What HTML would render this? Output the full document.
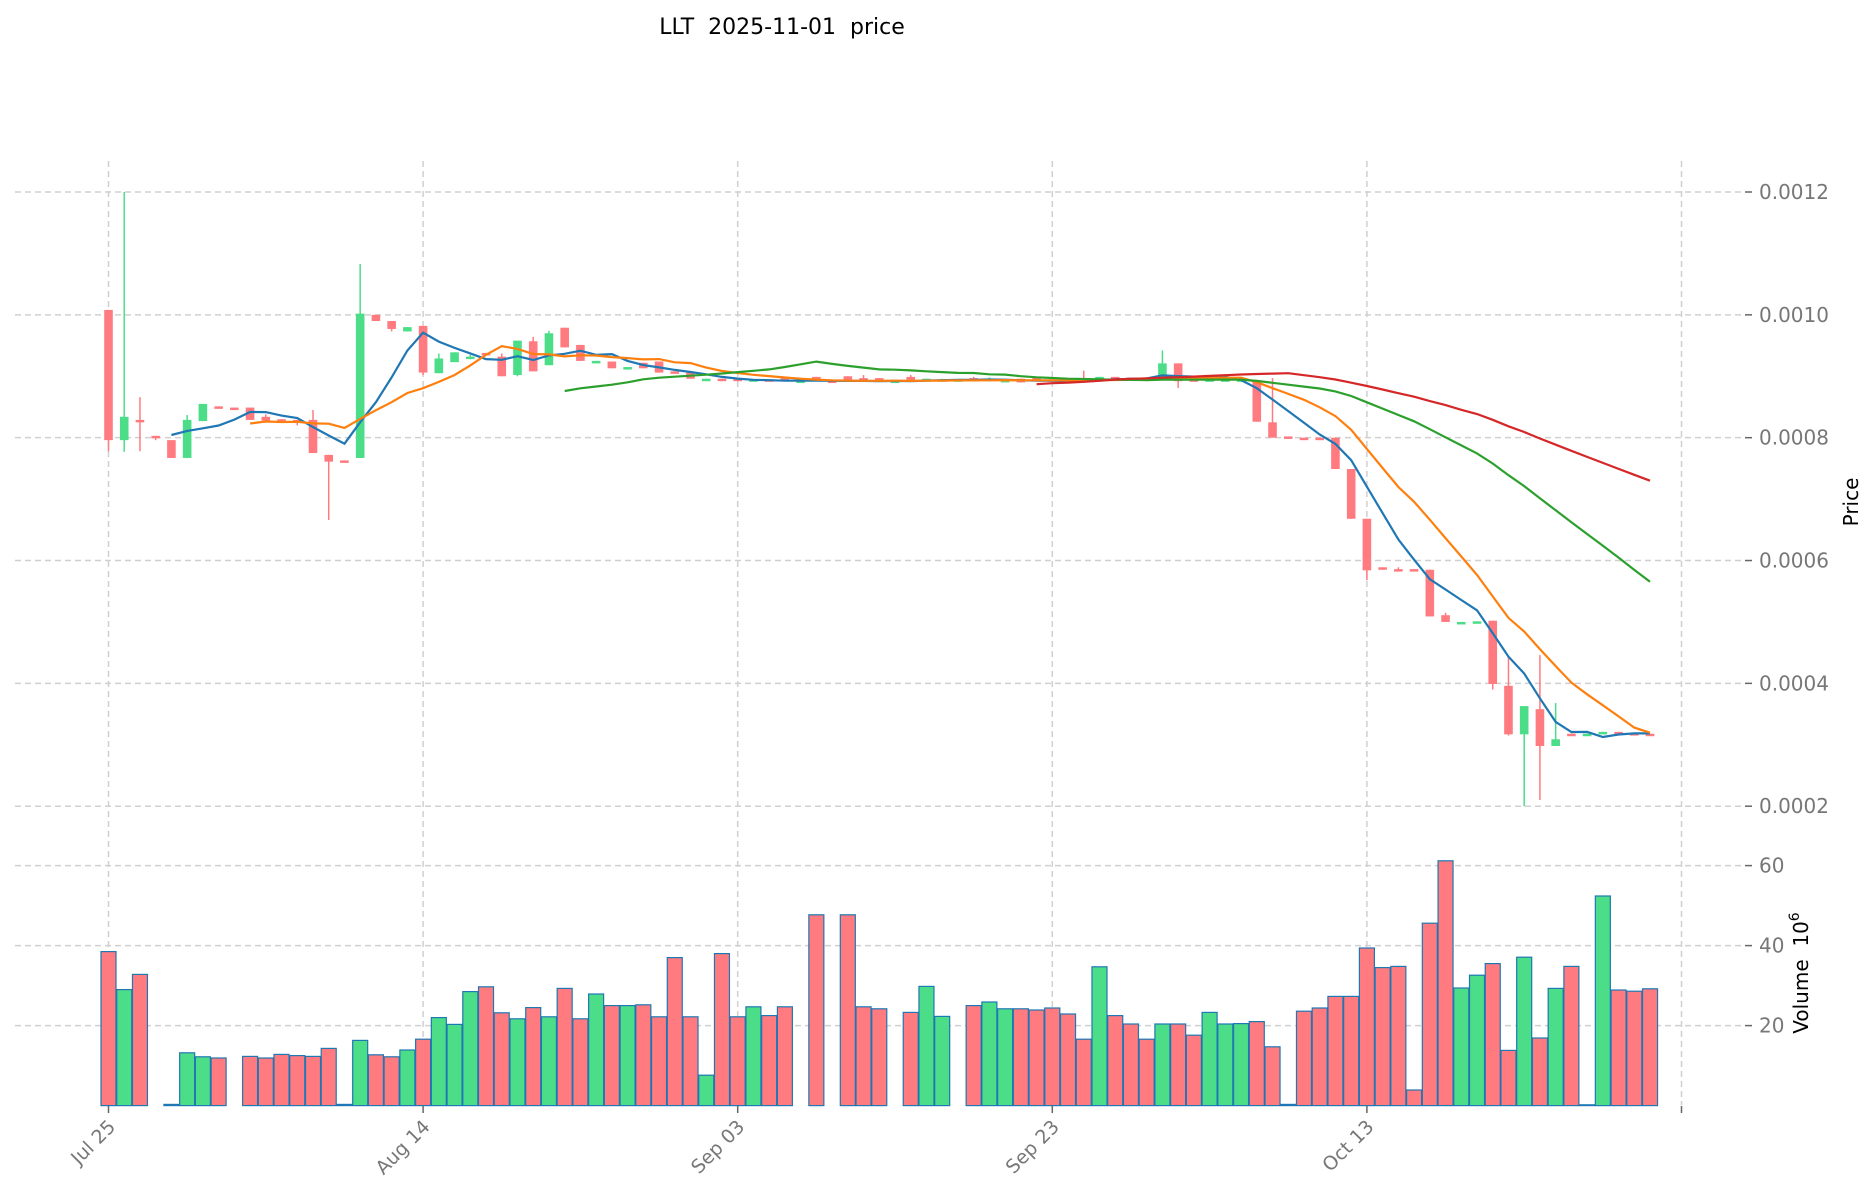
<!DOCTYPE html>
<html><head><meta charset="utf-8"><title>LLT price chart</title>
<style>
html,body{margin:0;padding:0;background:#fff;}
svg{display:block;font-family:"DejaVu Sans","Liberation Sans",sans-serif;}
</style></head>
<body>
<svg id="chart" width="1873" height="1202" viewBox="0 0 1873 1202" xmlns="http://www.w3.org/2000/svg">
<rect width="1873" height="1202" fill="#fff"/>
<text x="782" y="34" font-size="22" text-anchor="middle" fill="#000" xml:space="preserve" style="white-space:pre">LLT  2025-11-01  price</text>
<g id="grid"></g>
<g id="vol"></g>
<g id="candles"></g>
<g id="mas"></g>
<g id="axes"></g>
<text transform="translate(1858,502) rotate(-90)" font-size="20" text-anchor="middle" fill="#000">Price</text>
<text transform="translate(1808,973) rotate(-90)" font-size="20" text-anchor="middle" fill="#000" xml:space="preserve" style="white-space:pre">Volume  10<tspan font-size="14" dy="-9">6</tspan></text>
</svg>
<script>
const dateLabels = ["Jul 25","Aug 14","Sep 03","Sep 23","Oct 13",""];
const dateTickIdx = [0,20,40,60,80,100];
const priceTicks = [2,4,6,8,10,12];
const priceTickLabels = ["0.0002","0.0004","0.0006","0.0008","0.0010","0.0012"];
const volTicks = [20,40,60];
const volTickLabels = ["20","40","60"];
// prices in units of 1e-4
const opens = [10.08,7.96,8.29,8.03,7.96,7.67,8.27,8.51,8.49,8.49,8.34,8.30,8.29,8.29,7.72,7.63,7.67,10.0,9.90,9.73,9.82,9.05,9.23,9.28,9.38,9.32,9.02,9.57,9.18,9.79,9.51,9.23,9.24,9.14,9.22,9.24,9.08,9.06,8.95,8.96,8.96,8.92,8.95,8.99,8.93,8.99,8.93,9.00,8.97,8.97,8.92,8.99,8.92,8.93,8.95,8.97,8.92,8.92,8.96,8.99,8.95,8.96,8.97,8.95,8.99,8.98,8.98,8.96,9.21,8.95,8.92,8.93,8.94,8.92,8.25,8.02,8.00,8.00,8.00,7.49,6.68,5.89,5.86,5.86,5.85,5.11,5.00,5.00,5.02,3.96,3.17,3.58,2.98,3.18,3.17,3.17,3.21,3.19,3.18];
const highs = [10.08,12.0,8.66,8.03,7.96,8.37,8.55,8.51,8.49,8.49,8.38,8.30,8.29,8.45,7.72,7.63,10.83,10.0,9.90,9.80,9.82,9.37,9.39,9.35,9.38,9.37,9.58,9.64,9.74,9.79,9.51,9.25,9.24,9.15,9.22,9.24,9.08,9.06,8.96,8.96,8.96,8.95,8.95,8.99,8.93,8.99,8.93,9.00,9.02,8.97,8.93,9.02,8.96,8.96,8.95,8.99,8.98,8.94,8.96,8.99,8.95,8.96,9.09,8.99,8.99,8.98,8.98,9.42,9.21,8.95,8.95,8.95,8.95,8.92,8.97,8.02,8.00,8.00,8.00,7.49,6.68,5.89,5.89,5.86,5.85,5.15,5.00,5.01,5.02,4.42,3.63,4.46,3.68,3.18,3.18,3.21,3.21,3.19,3.18];
const lows = [7.78,7.77,7.78,7.96,7.67,7.67,8.27,8.48,8.48,8.29,8.28,8.24,8.20,7.75,6.66,7.61,7.67,9.90,9.73,9.73,9.02,9.05,9.23,9.28,9.34,9.00,9.00,9.08,9.18,9.47,9.25,9.23,9.13,9.14,9.13,9.06,9.05,8.96,8.95,8.92,8.92,8.92,8.93,8.92,8.93,8.92,8.93,8.92,8.92,8.92,8.92,8.92,8.92,8.93,8.95,8.92,8.92,8.92,8.90,8.92,8.92,8.93,8.95,8.95,8.96,8.96,8.96,8.96,8.81,8.92,8.92,8.93,8.94,8.26,8.00,8.00,8.00,7.99,7.49,6.68,5.68,5.85,5.85,5.85,5.09,5.00,5.00,5.00,3.90,3.15,2.00,2.10,2.98,3.17,3.17,3.17,3.19,3.18,3.17];
const closes = [7.96,8.34,8.25,8.00,7.67,8.29,8.55,8.48,8.48,8.29,8.28,8.27,8.27,7.75,7.61,7.61,10.02,9.90,9.77,9.80,9.06,9.29,9.39,9.32,9.34,9.00,9.58,9.08,9.70,9.47,9.25,9.25,9.13,9.15,9.13,9.06,9.05,8.96,8.96,8.92,8.92,8.95,8.93,8.92,8.93,8.92,8.93,8.92,8.92,8.92,8.93,8.92,8.96,8.95,8.95,8.92,8.96,8.94,8.90,8.92,8.92,8.93,8.95,8.99,8.96,8.96,8.96,9.21,8.92,8.92,8.95,8.95,8.95,8.26,8.00,8.00,8.00,8.00,7.49,6.68,5.84,5.85,5.85,5.85,5.09,5.00,5.00,5.01,3.99,3.17,3.63,2.98,3.09,3.17,3.18,3.21,3.19,3.18,3.17];
const upDay = [0,1,0,0,0,1,1,0,0,0,0,0,0,0,0,0,1,0,0,1,0,1,1,1,0,0,1,0,1,0,0,1,0,1,0,0,0,0,1,0,0,1,0,0,1,0,0,0,0,0,1,0,1,1,1,0,1,1,0,0,0,0,0,1,0,0,0,1,0,0,1,1,1,0,0,0,0,0,0,0,0,0,0,0,0,0,1,1,0,0,1,0,1,0,1,1,0,0,0];
// volume in millions
const volumes = [38.5,29,32.8,0,0.3,13.2,12.2,11.9,0,12.3,11.9,12.8,12.5,12.3,14.3,0.3,16.3,12.7,12.2,13.9,16.6,22,20.3,28.5,29.7,23.2,21.7,24.5,22.2,29.3,21.7,27.9,25,25,25.2,22.2,37,22.2,7.6,38,22.2,24.7,22.5,24.7,0,47.7,0,47.7,24.7,24.2,0,23.3,29.8,22.3,0,25,25.9,24.2,24.2,23.9,24.4,22.9,16.6,34.7,22.5,20.4,16.6,20.4,20.4,17.6,23.3,20.4,20.5,21,14.7,0.3,23.6,24.4,27.3,27.3,39.4,34.5,34.8,3.9,45.6,61.2,29.4,32.6,35.5,13.8,37.1,16.9,29.3,34.8,0.2,52.4,28.9,28.6,29.2];
const maPeriods = [5,10,30,60];
const maColors = ["#1f77b4","#ff7f0e","#2ca02c","#d62728"];

const NS="http://www.w3.org/2000/svg";
function xS(i){return 108.5+15.73*i;}
function yP(p){return 192+(12-p)*61.42;}
function yV(v){return 1105.6-v*4.0;}
function mk(tag,attrs,parent){const e=document.createElementNS(NS,tag);for(const k in attrs)e.setAttribute(k,attrs[k]);parent.appendChild(e);return e;}
const RED="#ff7b80",GREEN="#4cdd88";
const grid=document.getElementById('grid'),axes=document.getElementById('axes');
dateTickIdx.forEach((d,k)=>{
  const x=xS(d);
  const l=mk('line',{x1:x,x2:x,y1:161,y2:1105,stroke:'#d0d0d0','stroke-width':1.5,'stroke-dasharray':'6,4'},grid);
  
  
  const t=mk('line',{x1:x,x2:x,y1:1106,y2:1113,stroke:'#666','stroke-width':1.5},axes);
  
  
  if(dateLabels[k]){
    const tx=mk('text',{transform:`translate(${x+8},1128) rotate(-45)`,'font-size':19,'text-anchor':'end',fill:'#777'},axes);
    tx.textContent=dateLabels[k];
    
    
  }
});
priceTicks.forEach((p,k)=>{
  const y=yP(p);
  const l=mk('line',{x1:15,x2:1745,y1:y,y2:y,stroke:'#d0d0d0','stroke-width':1.5,'stroke-dasharray':'6,4'},grid);
  
  
  const t=mk('line',{x1:1745,x2:1752,y1:y,y2:y,stroke:'#666','stroke-width':1.5},axes);
  
  
  const tx=mk('text',{x:1759,y:y+7,'font-size':20,fill:'#777'},axes);
  tx.textContent=priceTickLabels[k];
  
  
});
volTicks.forEach((v,k)=>{
  const y=yV(v);
  const l=mk('line',{x1:15,x2:1745,y1:y,y2:y,stroke:'#d0d0d0','stroke-width':1.5,'stroke-dasharray':'6,4'},grid);
  
  
  const t=mk('line',{x1:1745,x2:1752,y1:y,y2:y,stroke:'#666','stroke-width':1.5},axes);
  
  
  const tx=mk('text',{x:1759,y:y+7,'font-size':20,fill:'#777'},axes);
  tx.textContent=volTickLabels[k];
  
  
});
const volG=document.getElementById('vol');
volumes.forEach((v,i)=>{
  if(v<=0) return;
  const w=15.0,x=xS(i)-w/2,y=yV(v),h=Math.max(yV(0)-y,0.8);
  const r=mk('rect',{x:x,y:yV(0)-h,width:w,height:h,fill:upDay[i]?GREEN:RED,stroke:'#1f77b4','stroke-width':1.2},volG);
  
  
});
const cg=document.getElementById('candles');
closes.forEach((c,i)=>{
  const col=upDay[i]?GREEN:RED,x=xS(i);
  const wk=mk('line',{x1:x,x2:x,y1:yP(highs[i]),y2:yP(lows[i]),stroke:col,'stroke-width':1.5},cg);
  
  
  const top=yP(Math.max(opens[i],c)),bot=yP(Math.min(opens[i],c));
  const h=Math.max(bot-top,2.5);
  const b=mk('rect',{x:x-4.3,y:top,width:8.6,height:h,fill:col},cg);
  
  
});
const mg=document.getElementById('mas');
maPeriods.forEach((n,k)=>{
  const pts=[];
  for(let i=n-1;i<closes.length;i++){
    let s=0;for(let j=i-n+1;j<=i;j++)s+=closes[j];
    pts.push(xS(i).toFixed(1)+','+yP(s/n).toFixed(1));
  }
  const pl=mk('polyline',{points:pts.join(' '),fill:'none',stroke:maColors[k],'stroke-width':2.2},mg);
  
  
});
</script>
</body></html>
